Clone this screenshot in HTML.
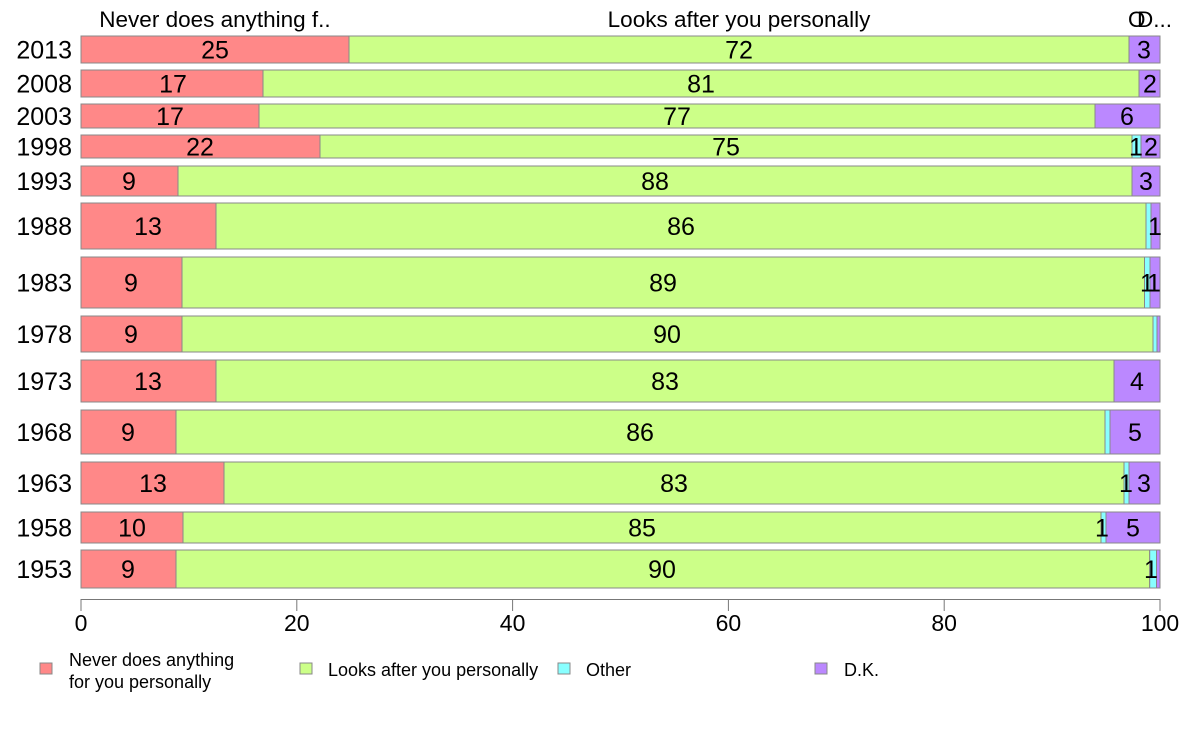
<!DOCTYPE html>
<html><head><meta charset="utf-8"><style>
html,body{margin:0;padding:0;background:#fff;}
svg{display:block;font-family:"Liberation Sans",Arial,sans-serif;}
</style></head><body>
<svg id="s" width="1188" height="736" xmlns="http://www.w3.org/2000/svg"></svg>
<script>
const s=document.getElementById('s');let h='';
const C=['#ff8888','#ccff88','#88ffff','#bb88ff'];
const rows=[
['2013',36,63,[349,1129,1129],[[215,'25'],[739,'72'],[1144,'3']]],
['2008',70,97,[263,1139,1139],[[173,'17'],[701,'81'],[1150,'2']]],
['2003',104,128,[259,1095,1095],[[170,'17'],[677,'77'],[1127,'6']]],
['1998',135,158,[320,1132,1141],[[200,'22'],[726,'75'],[1136,'1'],[1151,'2']]],
['1993',166,196,[178,1132,1132],[[129,'9'],[655,'88'],[1146,'3']]],
['1988',203,249,[216,1146,1151],[[148,'13'],[681,'86'],[1155,'1']]],
['1983',257,308,[182,1144.5,1150],[[131,'9'],[663,'89'],[1147,'1'],[1154,'1']]],
['1978',316,352,[182,1153,1157],[[131,'9'],[667,'90']]],
['1973',360,402,[216,1114,1114],[[148,'13'],[665,'83'],[1137,'4']]],
['1968',410,454,[176,1105,1110],[[128,'9'],[640,'86'],[1135,'5']]],
['1963',462,504,[224,1124,1129],[[153,'13'],[674,'83'],[1126,'1'],[1144,'3']]],
['1958',512,543,[183,1101,1106],[[132,'10'],[642,'85'],[1102,'1'],[1133,'5']]],
['1953',550,588,[176,1149.7,1156.5],[[128,'9'],[662,'90'],[1151,'1']]]
];
for(const [y,t,b,bd,lb] of rows){
  const xs=[81,bd[0],bd[1],bd[2],1160];
  for(let i=0;i<4;i++){const w=xs[i+1]-xs[i];if(w<=0)continue;
    h+=`<rect x="${xs[i]}" y="${t}" width="${w}" height="${b-t}" fill="${C[i]}" stroke="#888" stroke-width="1"/>`;}
  const cy=(t+b)/2+9;
  h+=`<text x="72" y="${cy}" font-size="25" text-anchor="end">${y}</text>`;
  for(const [x,tx] of lb) h+=`<text x="${x}" y="${cy}" font-size="25" text-anchor="middle">${tx}</text>`;
}
h+=`<text x="215" y="27" font-size="22.5" text-anchor="middle">Never does anything f..</text>`;
h+=`<text x="739" y="27" font-size="22.5" text-anchor="middle">Looks after you personally</text>`;
h+=`<text x="1128" y="27" font-size="22.5">O</text><text x="1137" y="27" font-size="22.5">D...</text>`;
h+=`<line x1="81" y1="599.5" x2="1160" y2="599.5" stroke="#777"/>`;
for(let v=0;v<=100;v+=20){const x=81+v*10.79;
  h+=`<line x1="${x}" y1="599" x2="${x}" y2="611" stroke="#777"/><text x="${x}" y="631" font-size="23" text-anchor="middle">${v}</text>`;}
const leg=[[40,C[0]],[300,C[1]],[558,C[2]],[815,C[3]]];
for(const [x,c] of leg) h+=`<rect x="${x}" y="663" width="12" height="11" fill="${c}" stroke="#888"/>`;
h+=`<text x="69" y="666" font-size="18">Never does anything</text><text x="69" y="688" font-size="18">for you personally</text>`;
h+=`<text x="328" y="676" font-size="18">Looks after you personally</text>`;
h+=`<text x="586" y="676" font-size="18">Other</text><text x="844" y="676" font-size="18">D.K.</text>`;
s.innerHTML=h;
</script>
</body></html>
